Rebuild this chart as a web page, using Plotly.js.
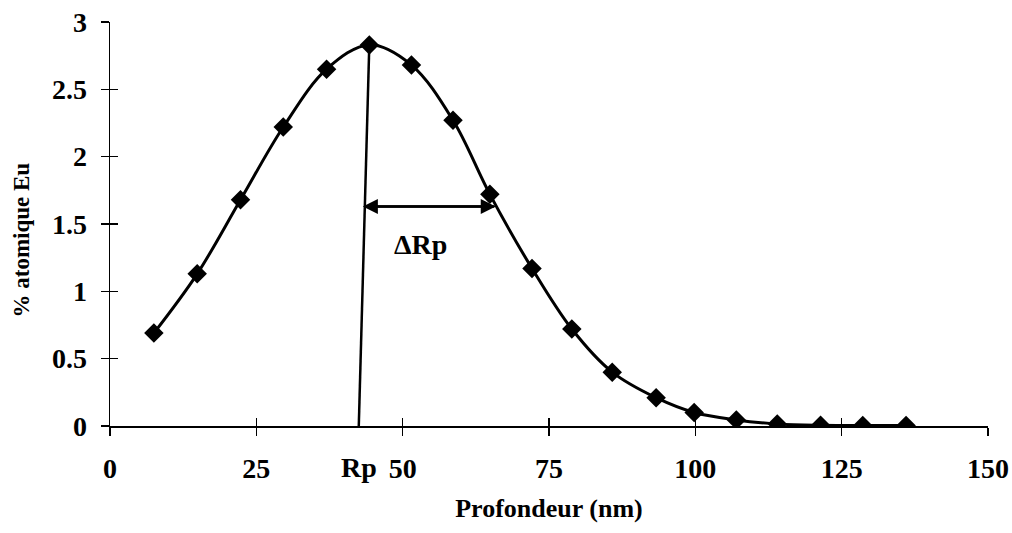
<!DOCTYPE html>
<html>
<head>
<meta charset="utf-8">
<script src="https://cdn.plot.ly/plotly-3.0.1.min.js"></script>
<style>html,body{margin:0;padding:0;background:#fff;}#chart{width:1012px;height:533px;}</style>
</head>
<body>
<div id="chart"></div>
<script>
const depth = [7.5, 14.9, 22.3, 29.6, 37.0, 44.3, 51.5, 58.6, 64.9, 72.1, 78.9, 85.8, 93.3, 99.8, 107.0, 114.0, 121.4, 128.6, 136.0];
const euPct = [0.69, 1.13, 1.68, 2.22, 2.65, 2.83, 2.68, 2.27, 1.72, 1.17, 0.72, 0.40, 0.21, 0.10, 0.045, 0.015, 0.005, 0.004, 0.003];
const xTicks = [0, 25, 50, 75, 100, 125, 150];
const xTickText = ['0', '25', '50', '75', '100', '125', '150'];
const yTicks = [0, 0.5, 1, 1.5, 2, 2.5, 3];
const yTickText = ['0', '0.5', '1', '1.5', '2', '2.5', '3'];
const rpLine = {x: [42.5, 44.3], y: [0, 2.83]};
const deltaRp = {x: [43.2, 65.9], y: 1.63};

const fam = 'Liberation Serif';
const bold = s => '<b>' + s + '</b>';
const trace = {
  x: depth, y: euPct, type: 'scatter', mode: 'lines+markers',
  line: {color: '#000', width: 3, shape: 'spline', smoothing: 1},
  marker: {symbol: 'diamond', size: 15, color: '#000'},
  showlegend: false, hoverinfo: 'skip'
};
const ghost = {x: [0], y: [0], xaxis: 'x2', yaxis: 'y2', mode: 'markers', marker: {opacity: 0}, showlegend: false, hoverinfo: 'skip'};
const layout = {
  width: 1012, height: 533,
  margin: {l: 110, r: 24, t: 22, b: 107},
  paper_bgcolor: '#fff', plot_bgcolor: '#fff',
  font: {family: fam, color: '#000', size: 28},
  xaxis: {
    range: [0, 150], tickvals: xTicks, ticktext: xTickText.map(bold),
    ticks: 'outside', ticklen: 8, tickwidth: 1.5, tickcolor: '#000', ticklabelstandoff: 8,
    showline: true, linecolor: '#000', linewidth: 2, showgrid: false, zeroline: false,
    tickfont: {family: fam, size: 28, color: '#000'},
    title: {text: '<b>Profondeur (nm)</b>', font: {family: fam, size: 26, color: '#000'}, standoff: 16}
  },
  yaxis: {
    range: [0, 3], tickvals: yTicks, ticktext: yTickText.map(bold),
    ticks: 'outside', ticklen: 8, tickwidth: 1.5, tickcolor: '#000', ticklabelstandoff: 8,
    showline: true, linecolor: '#000', linewidth: 1.5, showgrid: false, zeroline: false,
    tickfont: {family: fam, size: 28, color: '#000'}
  },
  xaxis2: {range: [0, 150], overlaying: 'x', tickvals: xTicks, ticks: 'inside', ticklen: 8, tickwidth: 1.5, tickcolor: '#000', showticklabels: false, showgrid: false, zeroline: false, showline: false},
  yaxis2: {range: [0, 3], overlaying: 'y', tickvals: yTicks, ticks: 'inside', ticklen: 8, tickwidth: 1.5, tickcolor: '#000', showticklabels: false, showgrid: false, zeroline: false, showline: false},
  shapes: [
    {type: 'line', xref: 'x', yref: 'y', x0: rpLine.x[0], y0: rpLine.y[0], x1: rpLine.x[1], y1: rpLine.y[1], line: {color: '#000', width: 2.5}}
  ],
  annotations: [
    {x: deltaRp.x[0], y: deltaRp.y, ax: deltaRp.x[1], ay: deltaRp.y, xref: 'x', yref: 'y', axref: 'x', ayref: 'y', text: '', showarrow: true, arrowhead: 2, arrowsize: 1.2, arrowwidth: 2.5, arrowcolor: '#000'},
    {x: deltaRp.x[1], y: deltaRp.y, ax: deltaRp.x[0], ay: deltaRp.y, xref: 'x', yref: 'y', axref: 'x', ayref: 'y', text: '', showarrow: true, arrowhead: 2, arrowsize: 1.2, arrowwidth: 2.5, arrowcolor: '#000'},
    {x: 53, y: 1.35, xref: 'x', yref: 'y', text: '<b>ΔRp</b>', showarrow: false, font: {family: fam, size: 28, color: '#000'}},
    {x: 42.5, y: 0, xref: 'x', yref: 'y', yshift: -41, text: '<b>Rp</b>', showarrow: false, font: {family: fam, size: 28, color: '#000'}},
    {x: -0.101, y: 0.46, xref: 'paper', yref: 'paper', xanchor: 'center', yanchor: 'middle', textangle: -90, text: '<b>% atomique Eu</b>', showarrow: false, font: {family: fam, size: 23, color: '#000'}}
  ]
};
Plotly.newPlot('chart', [trace, ghost], layout, {staticPlot: true, displayModeBar: false});
</script>
</body>
</html>
